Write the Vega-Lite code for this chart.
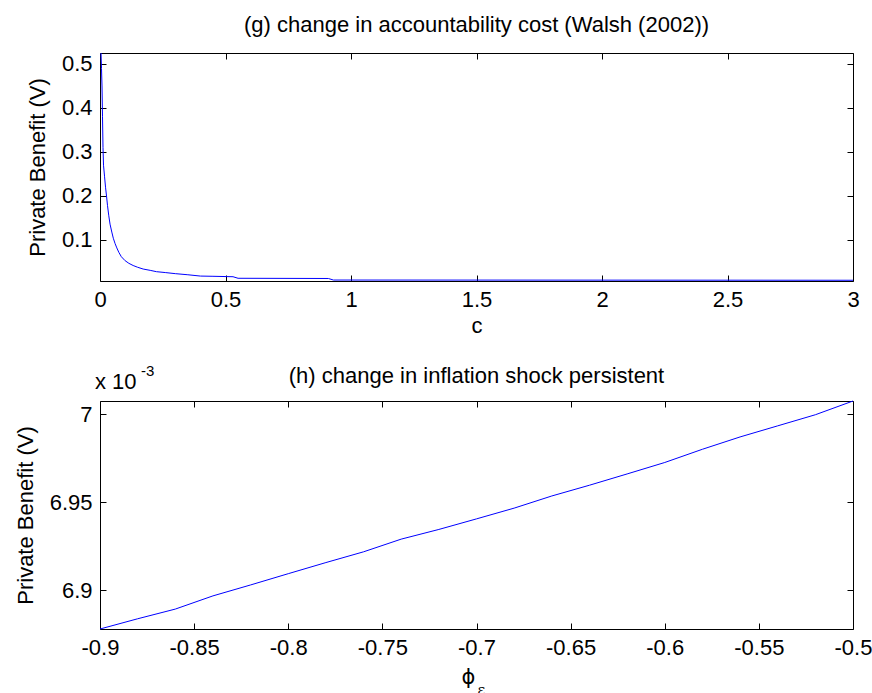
{
  "$schema": "https://vega.github.io/schema/vega-lite/v6.json",
  "background": "white",
  "padding": {"left": 13, "top": 13, "right": 10, "bottom": 0},
  "bounds": "flush",
  "spacing": 120,
  "config": {
    "font": "Liberation Sans",
    "view": {"stroke": "black", "strokeWidth": 1},
    "axis": {
      "labelFont": "Liberation Sans",
      "labelFontSize": 22,
      "labelColor": "black",
      "titleFont": "Liberation Sans",
      "titleFontSize": 22,
      "titleFontWeight": "normal",
      "titleColor": "black",
      "tickColor": "black",
      "tickSize": -6,
      "domain": false,
      "grid": false,
      "labelFlush": false,
      "labelOverlap": false,
      "labelPadding": 14
    },
    "title": {"font": "Liberation Sans", "fontSize": 22, "fontWeight": "normal", "color": "black", "offset": 14}
  },
  "vconcat": [
    {
      "width": 753,
      "height": 228,
      "title": "(g) change in accountability cost (Walsh (2002))",
      "data": {"values": [
        {"c": 0.004, "V": 0.525},
        {"c": 0.006, "V": 0.49},
        {"c": 0.008, "V": 0.45},
        {"c": 0.010, "V": 0.38},
        {"c": 0.012, "V": 0.31},
        {"c": 0.014, "V": 0.27},
        {"c": 0.018, "V": 0.245},
        {"c": 0.022, "V": 0.22},
        {"c": 0.026, "V": 0.2},
        {"c": 0.030, "V": 0.178},
        {"c": 0.035, "V": 0.155},
        {"c": 0.040, "V": 0.136},
        {"c": 0.047, "V": 0.118},
        {"c": 0.053, "V": 0.104},
        {"c": 0.060, "V": 0.092},
        {"c": 0.067, "V": 0.082},
        {"c": 0.075, "V": 0.072},
        {"c": 0.085, "V": 0.062},
        {"c": 0.100, "V": 0.053},
        {"c": 0.115, "V": 0.047},
        {"c": 0.132, "V": 0.042},
        {"c": 0.150, "V": 0.038},
        {"c": 0.172, "V": 0.034},
        {"c": 0.200, "V": 0.031},
        {"c": 0.225, "V": 0.028},
        {"c": 0.260, "V": 0.026},
        {"c": 0.300, "V": 0.0235},
        {"c": 0.350, "V": 0.021},
        {"c": 0.400, "V": 0.018},
        {"c": 0.450, "V": 0.0175},
        {"c": 0.530, "V": 0.0165},
        {"c": 0.550, "V": 0.013},
        {"c": 0.910, "V": 0.0125},
        {"c": 0.930, "V": 0.009},
        {"c": 3.000, "V": 0.0085}
      ]},
      "layer": [
        {
          "mark": {"type": "line", "color": "#0000ff", "strokeWidth": 1},
          "encoding": {
            "x": {"field": "c", "type": "quantitative",
                  "scale": {"domain": [0, 3], "nice": false, "zero": false},
                  "axis": {"values": [0, 0.5, 1, 1.5, 2, 2.5, 3], "labelExpr": "'' + datum.value", "title": "c", "titlePadding": 5}},
            "y": {"field": "V", "type": "quantitative",
                  "scale": {"domain": [0.0068, 0.525], "nice": false, "zero": false},
                  "axis": {"values": [0.1, 0.2, 0.3, 0.4, 0.5], "labelExpr": "'' + datum.value", "title": "Private Benefit (V)", "titlePadding": 12}}
          }
        },
        {
          "mark": {"type": "line", "strokeOpacity": 0},
          "encoding": {
            "x": {"field": "c", "type": "quantitative",
                  "axis": {"orient": "top", "values": [0, 0.5, 1, 1.5, 2, 2.5, 3], "labels": false, "title": null}},
            "y": {"field": "V", "type": "quantitative",
                  "axis": {"orient": "right", "values": [0.1, 0.2, 0.3, 0.4, 0.5], "labels": false, "title": null}}
          }
        }
      ],
      "resolve": {"axis": {"x": "independent", "y": "independent"}}
    },
    {
      "width": 753,
      "height": 228,
      "data": {"values": [
        {"phi": -0.90, "V": 0.0068780},
        {"phi": -0.88, "V": 0.0068838},
        {"phi": -0.86, "V": 0.0068893},
        {"phi": -0.84, "V": 0.0068968},
        {"phi": -0.82, "V": 0.0069030},
        {"phi": -0.80, "V": 0.0069094},
        {"phi": -0.78, "V": 0.0069157},
        {"phi": -0.76, "V": 0.0069218},
        {"phi": -0.74, "V": 0.0069290},
        {"phi": -0.72, "V": 0.0069345},
        {"phi": -0.70, "V": 0.0069405},
        {"phi": -0.68, "V": 0.0069466},
        {"phi": -0.66, "V": 0.0069535},
        {"phi": -0.64, "V": 0.0069596},
        {"phi": -0.62, "V": 0.0069660},
        {"phi": -0.60, "V": 0.0069725},
        {"phi": -0.58, "V": 0.0069800},
        {"phi": -0.56, "V": 0.0069870},
        {"phi": -0.54, "V": 0.0069933},
        {"phi": -0.52, "V": 0.0069996},
        {"phi": -0.50, "V": 0.0070074}
      ]},
      "layer": [
        {
          "mark": {"type": "line", "color": "#0000ff", "strokeWidth": 1},
          "encoding": {
            "x": {"field": "phi", "type": "quantitative",
                  "scale": {"domain": [-0.9, -0.5], "nice": false, "zero": false},
                  "axis": {"values": [-0.9, -0.85, -0.8, -0.75, -0.7, -0.65, -0.6, -0.55, -0.5], "labelExpr": "'' + datum.value", "title": null}},
            "y": {"field": "V", "type": "quantitative",
                  "scale": {"domain": [0.006878, 0.0070074], "nice": false, "zero": false},
                  "axis": {"values": [0.0069, 0.00695, 0.007], "labelExpr": "format(datum.value * 1000, '.2~f')", "title": "Private Benefit (V)", "titlePadding": 12}}
          }
        },
        {
          "mark": {"type": "line", "strokeOpacity": 0},
          "encoding": {
            "x": {"field": "phi", "type": "quantitative",
                  "axis": {"orient": "top", "values": [-0.9, -0.85, -0.8, -0.75, -0.7, -0.65, -0.6, -0.55, -0.5], "labels": false, "title": null}},
            "y": {"field": "V", "type": "quantitative",
                  "axis": {"orient": "right", "values": [0.0069, 0.00695, 0.007], "labels": false, "title": null}}
          }
        },
        {
          "data": {"values": [{"label": "(h) change in inflation shock persistent"}]},
          "mark": {"type": "text", "align": "center", "baseline": "alphabetic", "fontSize": 22, "color": "black", "dy": -18},
          "encoding": {"x": {"datum": -0.7, "axis": null}, "y": {"datum": 0.0070074, "axis": null}, "text": {"field": "label"}}
        },
        {
          "data": {"values": [{"label": "x 10"}]},
          "mark": {"type": "text", "align": "left", "baseline": "alphabetic", "fontSize": 22, "color": "black", "dx": -5, "dy": -12},
          "encoding": {"x": {"datum": -0.9, "axis": null}, "y": {"datum": 0.0070074, "axis": null}, "text": {"field": "label"}}
        },
        {
          "data": {"values": [{"label": "-3"}]},
          "mark": {"type": "text", "align": "left", "baseline": "alphabetic", "fontSize": 15, "color": "black", "dx": 41, "dy": -25},
          "encoding": {"x": {"datum": -0.9, "axis": null}, "y": {"datum": 0.0070074, "axis": null}, "text": {"field": "label"}}
        },
        {
          "data": {"values": [{"label": "ϕ"}]},
          "mark": {"type": "text", "align": "center", "baseline": "alphabetic", "font": "DejaVu Sans", "fontSize": 21, "color": "black", "dx": -8, "dy": 55},
          "encoding": {"x": {"datum": -0.7, "axis": null}, "y": {"datum": 0.006878, "axis": null}, "text": {"field": "label"}}
        },
        {
          "data": {"values": [{"label": "ε"}]},
          "mark": {"type": "text", "align": "left", "baseline": "alphabetic", "font": "DejaVu Serif", "fontSize": 15, "color": "black", "dx": 1, "dy": 66},
          "encoding": {"x": {"datum": -0.7, "axis": null}, "y": {"datum": 0.006878, "axis": null}, "text": {"field": "label"}}
        }
      ],
      "resolve": {"axis": {"x": "independent", "y": "independent"}}
    }
  ]
}
